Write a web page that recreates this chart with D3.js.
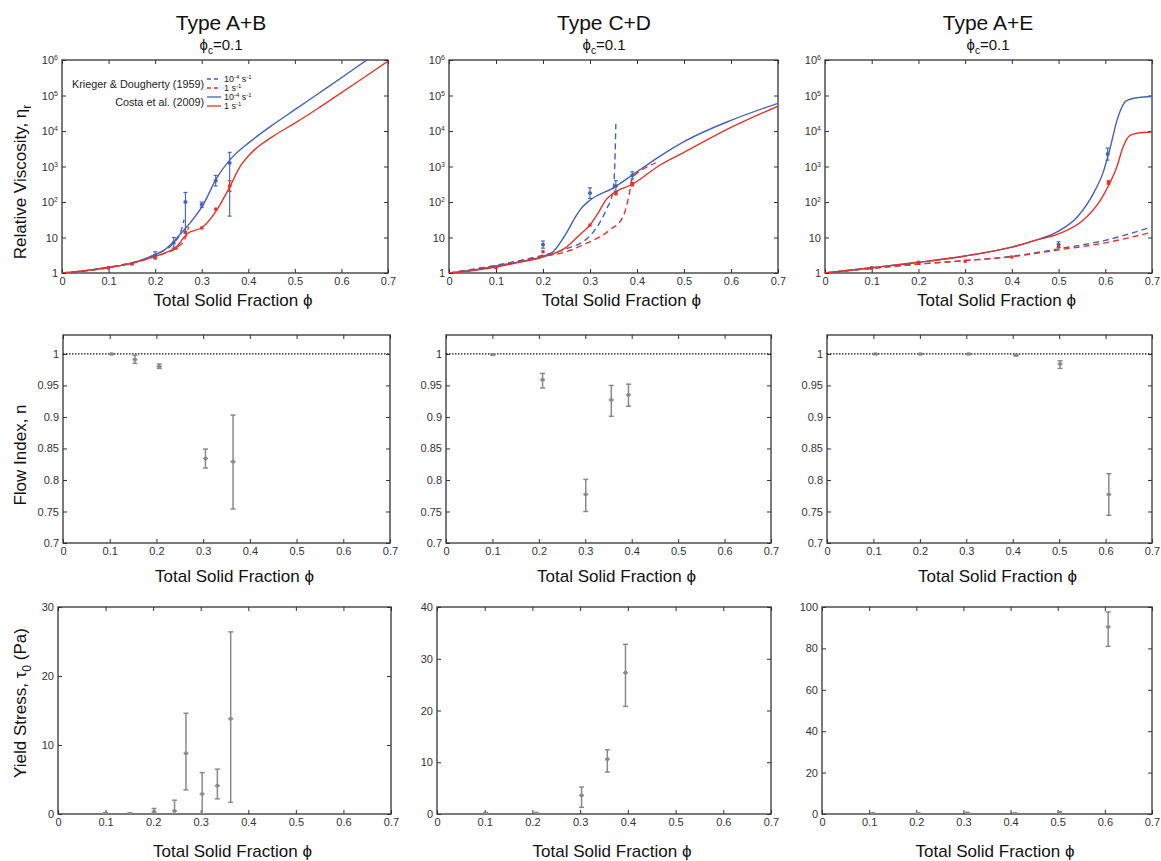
<!DOCTYPE html>
<html>
<head>
<meta charset="utf-8">
<script src="https://cdn.jsdelivr.net/npm/d3@7"></script>
<style>
  body { margin: 0; background: #fff; }
  svg { font-family: "Liberation Sans", Arial, sans-serif; }
</style>
</head>
<body>
<svg id="chart" width="1161" height="861"></svg>
<script>
// ---- ticks and labels ----
const phiTicks = [0, 0.1, 0.2, 0.3, 0.4, 0.5, 0.6, 0.7];
const etaTicks = [1, 10, 100, 1e3, 1e4, 1e5, 1e6];
const nTicks = [0.7, 0.75, 0.8, 0.85, 0.9, 0.95, 1];
const tauTicks = [[0, 10, 20, 30], [0, 10, 20, 30, 40], [0, 20, 40, 60, 80, 100]];
const tauMax = [30, 40, 100];
const titles = ['Type A+B', 'Type C+D', 'Type A+E'];

// ---- relative viscosity curves, [phi, eta_r] ----
// KD = Krieger & Dougherty (dashed), Costa = Costa et al. (solid); slow = 1e-4 s-1, fast = 1 s-1
const abKdSlow = [[0, 1], [0.1, 1.45], [0.2, 3.31], [0.24, 7.08], [0.255, 14.1], [0.262, 31.6]];
const abKdFast = [[0, 1], [0.1, 1.41], [0.2, 2.95], [0.25, 5.62], [0.265, 10], [0.272, 20]];
const abCostaSlow = [[0, 1], [0.05, 1.17], [0.1, 1.45], [0.15, 1.9], [0.2, 3.31], [0.22, 4.47], [0.246, 9.5],
  [0.268, 20], [0.303, 83.2], [0.332, 468], [0.36, 1514], [0.404, 5012], [0.45, 14125], [0.5, 39811],
  [0.55, 112202], [0.6, 316228], [0.655, 1e6], [0.67, 1.35e6]];
const abCostaFast = [[0, 1], [0.05, 1.17], [0.1, 1.41], [0.15, 1.86], [0.2, 2.95], [0.22, 3.63], [0.246, 5.5],
  [0.268, 12.6], [0.303, 20], [0.335, 67.6], [0.36, 263], [0.382, 977], [0.404, 2239], [0.453, 7079],
  [0.5, 16596], [0.55, 43652], [0.6, 120226], [0.65, 331131], [0.7, 933254]];

const cdKdSlow = [[0, 1], [0.1, 1.66], [0.2, 3.16], [0.25, 4.79], [0.3, 11.2], [0.32, 25.1], [0.335, 63.1],
  [0.348, 178], [0.352, 631], [0.355, 15849]];
const cdKdFast = [[0, 1], [0.1, 1.58], [0.2, 2.95], [0.25, 3.98], [0.285, 6.17], [0.342, 16.2], [0.37, 38],
  [0.384, 178], [0.39, 468], [0.41, 794], [0.44, 1259]];
const cdCostaSlow = [[0, 1], [0.05, 1.2], [0.1, 1.55], [0.15, 2.09], [0.2, 2.95], [0.22, 3.8], [0.25, 13.5],
  [0.27, 39.8], [0.28, 63.1], [0.3, 112], [0.35, 251], [0.39, 575], [0.45, 1995], [0.5, 5012],
  [0.6, 19953], [0.7, 60256]];
const cdCostaFast = [[0, 1], [0.05, 1.17], [0.1, 1.48], [0.15, 2.0], [0.2, 2.82], [0.25, 5.37], [0.28, 12.6],
  [0.3, 22.4], [0.32, 56.2], [0.334, 115], [0.35, 178], [0.39, 316], [0.45, 1122], [0.5, 2512],
  [0.6, 12589], [0.7, 50119]];

const aeKdSlow = [[0, 1], [0.1, 1.35], [0.2, 1.78], [0.3, 2.24], [0.4, 2.95], [0.5, 4.79], [0.6, 8.32], [0.7, 20]];
const aeKdFast = [[0, 1], [0.1, 1.35], [0.2, 1.78], [0.3, 2.24], [0.4, 2.88], [0.5, 4.47], [0.6, 7.08], [0.7, 14.1]];
const aeCostaSlow = [[0, 1], [0.1, 1.41], [0.2, 2.0], [0.3, 3.02], [0.4, 5.37], [0.45, 8.32], [0.5, 15.1],
  [0.54, 38], [0.575, 178], [0.595, 661], [0.61, 3162], [0.625, 19953], [0.645, 70795], [0.67, 87096],
  [0.7, 93325]];
const aeCostaFast = [[0, 1], [0.1, 1.41], [0.2, 2.0], [0.3, 3.02], [0.4, 5.37], [0.45, 8.32], [0.5, 12.6],
  [0.553, 30.9], [0.59, 115], [0.61, 347], [0.625, 1000], [0.638, 3548], [0.653, 7586], [0.67, 8710],
  [0.7, 9333]];

// ---- measured viscosity, [phi, eta_r, low, high] ----
const abSlowPts = [[0.1, 1.41], [0.15, 1.82], [0.2, 3.16, 2.51, 3.98], [0.24, 7.08, 5.01, 10],
  [0.265, 100, 13.2, 186], [0.3, 83.2, 70.8, 100], [0.33, 398, 282, 562], [0.36, 1259, 40, 2512]];
const abFastPts = [[0.1, 1.41], [0.15, 1.82], [0.2, 2.69], [0.245, 5.01], [0.265, 14.1], [0.3, 18.6],
  [0.33, 63.1], [0.36, 282, 200, 398]];
const cdSlowPts = [[0.1, 1.48], [0.2, 6.31, 5.01, 7.94], [0.3, 178, 126, 251], [0.355, 282, 200, 398],
  [0.39, 562, 447, 708]];
const cdFastPts = [[0.1, 1.41], [0.2, 3.98], [0.3, 22.4], [0.355, 178, 158, 200], [0.39, 316, 282, 355]];
const aeSlowPts = [[0.1, 1.41], [0.2, 2.0], [0.5, 6.31, 5.25, 7.59], [0.605, 2239, 1514, 3311]];
const aeFastPts = [[0.1, 1.38], [0.2, 1.86], [0.3, 2.14], [0.4, 2.82], [0.5, 5.62], [0.607, 355, 316, 398]];

// ---- flow index n, [phi, n, low, high] ----
const abN = [[0.104, 1.0, 0.999, 1.0], [0.154, 0.991, 0.985, 0.998], [0.206, 0.98, 0.977, 0.984],
  [0.305, 0.834, 0.819, 0.849], [0.364, 0.829, 0.754, 0.903]];
const cdN = [[0.101, 0.999, 0.998, 1.0], [0.208, 0.959, 0.946, 0.969], [0.301, 0.777, 0.75, 0.801],
  [0.356, 0.927, 0.901, 0.95], [0.393, 0.935, 0.917, 0.952]];
const aeN = [[0.104, 1.0, 0.999, 1.0], [0.201, 1.0, 0.999, 1.0], [0.305, 1.0, 0.999, 1.0],
  [0.407, 0.998, 0.997, 0.999], [0.502, 0.984, 0.977, 0.989], [0.607, 0.777, 0.744, 0.81]];

// ---- yield stress tau0 (Pa), [phi, tau, low, high] ----
const abTau = [[0.1, 0, 0, 0.2], [0.151, 0, -0.1, 0.15], [0.202, 0.3, 0, 0.8], [0.245, 0.45, 0, 2.0],
  [0.269, 8.8, 3.5, 14.6], [0.303, 2.9, 0, 6.0], [0.335, 4.1, 2.2, 6.5], [0.363, 13.8, 1.7, 26.4]];
const cdTau = [[0.102, 0, 0, 0.3], [0.208, 0, 0, 0.3], [0.303, 3.6, 1.3, 5.2], [0.357, 10.6, 8.1, 12.4],
  [0.395, 27.3, 20.8, 32.8]];
const aeTau = [[0.108, 0, 0, 0.5], [0.204, 0, 0, 0.5], [0.308, 0.2, 0, 0.8], [0.409, 0, 0, 0.5],
  [0.504, 0.5, 0, 1], [0.607, 90.4, 81, 97.6]];

const legendRates = [['10', '-4'], ['1', ''], ['10', '-4'], ['1', '']];

// ---- style / layout ----
const BLUE = '#4262b6';
const RED = '#e4342a';
const GRAY = '#8a8a8a';
const INK = '#333';
const layout = [
  { top: 60, bottom: 273, cols: [[62, 388], [449, 778], [825, 1152]] },
  { top: 335, bottom: 543, cols: [[63, 390], [446, 771], [827, 1152]] },
  { top: 607, bottom: 814, cols: [[58, 391], [437, 771], [822, 1152]] },
];
const xLabelY = [306, 582, 857];

const svg = d3.select('#chart');

function frame(r, c, y, yTicks, yFmt) {
  const [x0, x1] = layout[r].cols[c];
  const { top, bottom } = layout[r];
  const x = d3.scaleLinear().domain([0, 0.7]).range([x0, x1]);
  const g = svg.append('g');

  svg.append('clipPath').attr('id', `clip${r}${c}`)
    .append('rect').attr('x', x0).attr('y', top).attr('width', x1 - x0).attr('height', bottom - top);

  const axes = [
    [d3.axisBottom(x).tickValues(phiTicks).tickFormat(d3.format('')), `translate(0,${bottom})`],
    [d3.axisTop(x).tickValues(phiTicks).tickFormat(''), `translate(0,${top})`],
    [d3.axisLeft(y).tickValues(yTicks).tickFormat(yFmt), `translate(${x0},0)`],
    [d3.axisRight(y).tickValues(yTicks).tickFormat(''), `translate(${x1},0)`],
  ];
  const groups = axes.map(([ax, tr]) => {
    const a = g.append('g').attr('transform', tr)
      .call(ax.tickSizeInner(-4).tickSizeOuter(0).tickPadding(4));
    a.select('.domain').remove();
    a.selectAll('line').attr('stroke', INK);
    a.selectAll('text').attr('font-size', 11).attr('fill', INK)
      .attr('font-family', '"Liberation Sans", Arial, sans-serif');
    return a;
  });

  g.append('rect').attr('x', x0).attr('y', top).attr('width', x1 - x0).attr('height', bottom - top)
    .attr('fill', 'none').attr('stroke', INK).attr('stroke-width', 1.3);

  g.append('text').attr('x', (x0 + x1) / 2 + 8).attr('y', xLabelY[r])
    .attr('text-anchor', 'middle').attr('font-size', 17).attr('fill', '#111')
    .text('Total Solid Fraction \u03d5');

  const plot = svg.append('g').attr('clip-path', `url(#clip${r}${c})`);
  return { x, g, plot, left: groups[2] };
}

function errorBars(plot, pts, x, y, color, cap, width) {
  const withErr = pts.filter(p => p.length > 2);
  plot.selectAll(null).data(withErr).join('line')
    .attr('x1', d => x(d[0])).attr('x2', d => x(d[0]))
    .attr('y1', d => y(d[2])).attr('y2', d => y(d[3]))
    .attr('stroke', color).attr('stroke-width', width);
  [2, 3, 1].forEach(k => {
    plot.selectAll(null).data(withErr).join('line')
      .attr('x1', d => x(d[0]) - cap).attr('x2', d => x(d[0]) + cap)
      .attr('y1', d => y(d[k])).attr('y2', d => y(d[k]))
      .attr('stroke', color).attr('stroke-width', width);
  });
  plot.selectAll(null).data(pts).join('rect')
    .attr('x', d => x(d[0]) - 1.6).attr('y', d => y(d[1]) - 1.6)
    .attr('width', 3.2).attr('height', 3.2)
    .attr('fill', color);
}

// ---- row 1: relative viscosity ----
const viscPanels = [
  [abKdSlow, abKdFast, abCostaSlow, abCostaFast, abSlowPts, abFastPts],
  [cdKdSlow, cdKdFast, cdCostaSlow, cdCostaFast, cdSlowPts, cdFastPts],
  [aeKdSlow, aeKdFast, aeCostaSlow, aeCostaFast, aeSlowPts, aeFastPts],
];

viscPanels.forEach((set, c) => {
  const y = d3.scaleLog().domain([1, 1e6]).range([layout[0].bottom, layout[0].top]);
  const { x, plot, left } = frame(0, c, y, etaTicks, d => (d < 100 ? String(d) : '10'));
  left.selectAll('text').filter(d => d >= 100)
    .each(function (d) {
      d3.select(this).append('tspan').attr('dy', '-0.55em').attr('font-size', 7)
        .text(Math.round(Math.log10(d)));
    });
  const line = d3.line().x(d => x(d[0])).y(d => y(d[1])).curve(d3.curveMonotoneX);
  const [kdS, kdF, coS, coF, ptS, ptF] = set;
  [[kdS, BLUE, '6,4'], [kdF, RED, '6,4'], [coS, BLUE, null], [coF, RED, null]].forEach(([data, col, dash]) => {
    plot.append('path').datum(data).attr('d', line)
      .attr('fill', 'none').attr('stroke', col).attr('stroke-width', 1.4)
      .attr('stroke-dasharray', dash);
  });
  errorBars(plot, ptS, x, y, BLUE, 2, 1.1);
  errorBars(plot, ptF, x, y, RED, 2, 1.1);

  const cx = [221, 604, 988][c];
  svg.append('text').attr('x', cx).attr('y', 30).attr('text-anchor', 'middle')
    .attr('font-size', 21).attr('fill', '#111').text(titles[c]);
  const s = svg.append('text').attr('x', cx).attr('y', 50).attr('text-anchor', 'middle')
    .attr('font-size', 15).attr('fill', '#111');
  s.append('tspan').text('\u03d5');
  s.append('tspan').attr('dy', 4).attr('font-size', 10).text('c');
  s.append('tspan').attr('dy', -4).text('=0.1');

  if (c === 0) {
    // legend
    const lg = svg.append('g').attr('font-size', 10.8).attr('fill', '#222');
    const rows = [79, 88, 97, 106];
    const styles = [[BLUE, '4,3'], [RED, '4,3'], [BLUE, null], [RED, null]];
    rows.forEach((ry, i) => {
      lg.append('line').attr('x1', 207).attr('x2', 221).attr('y1', ry).attr('y2', ry)
        .attr('stroke', styles[i][0]).attr('stroke-width', 1.3).attr('stroke-dasharray', styles[i][1]);
      const tx = lg.append('text').attr('x', 224).attr('y', ry + 3).attr('font-size', 9);
      tx.append('tspan').text(legendRates[i][0]);
      if (legendRates[i][1]) tx.append('tspan').attr('dy', -3).attr('font-size', 6).text(legendRates[i][1]);
      tx.append('tspan').attr('dy', legendRates[i][1] ? 3 : 0).text(' s');
      tx.append('tspan').attr('dy', -3).attr('font-size', 6).text('-1');
    });
    lg.append('text').attr('x', 204).attr('y', 88).attr('text-anchor', 'end').text('Krieger & Dougherty (1959)');
    lg.append('text').attr('x', 204).attr('y', 106).attr('text-anchor', 'end').text('Costa et al. (2009)');
  }
});

// ---- row 2: flow index ----
[abN, cdN, aeN].forEach((pts, c) => {
  const y = d3.scaleLinear().domain([0.7, 1.03]).range([layout[1].bottom, layout[1].top]);
  const { x, plot } = frame(1, c, y, nTicks, d3.format(''));
  plot.append('line').attr('x1', x(0)).attr('x2', x(0.7)).attr('y1', y(1)).attr('y2', y(1))
    .attr('stroke', '#111').attr('stroke-width', 1.2).attr('stroke-dasharray', '1.5,1.5');
  errorBars(plot, pts, x, y, GRAY, 2.5, 1.5);
});

// ---- row 3: yield stress ----
[abTau, cdTau, aeTau].forEach((pts, c) => {
  const y = d3.scaleLinear().domain([0, tauMax[c]]).range([layout[2].bottom, layout[2].top]);
  const { x, plot } = frame(2, c, y, tauTicks[c], d3.format(''));
  errorBars(plot, pts, x, y, GRAY, 2.5, 1.5);
});

// ---- y axis titles ----
function yTitle(yc, parts) {
  const t = svg.append('text').attr('transform', `translate(26,${yc}) rotate(-90)`)
    .attr('text-anchor', 'middle').attr('font-size', 17).attr('fill', '#111');
  parts.forEach(([txt, sub]) => {
    const sp = t.append('tspan').text(txt);
    if (sub === 1) sp.attr('dy', 5).attr('font-size', 12);
    if (sub === -1) sp.attr('dy', -5);
  });
}
yTitle(182, [['Relative Viscosity, \u03b7', 0], ['r', 1]]);
yTitle(455, [['Flow Index, ', 0], ['n', 0]]);
yTitle(703, [['Yield Stress, \u03c4', 0], ['0', 1], [' (Pa)', -1]]);
</script>
</body>
</html>
